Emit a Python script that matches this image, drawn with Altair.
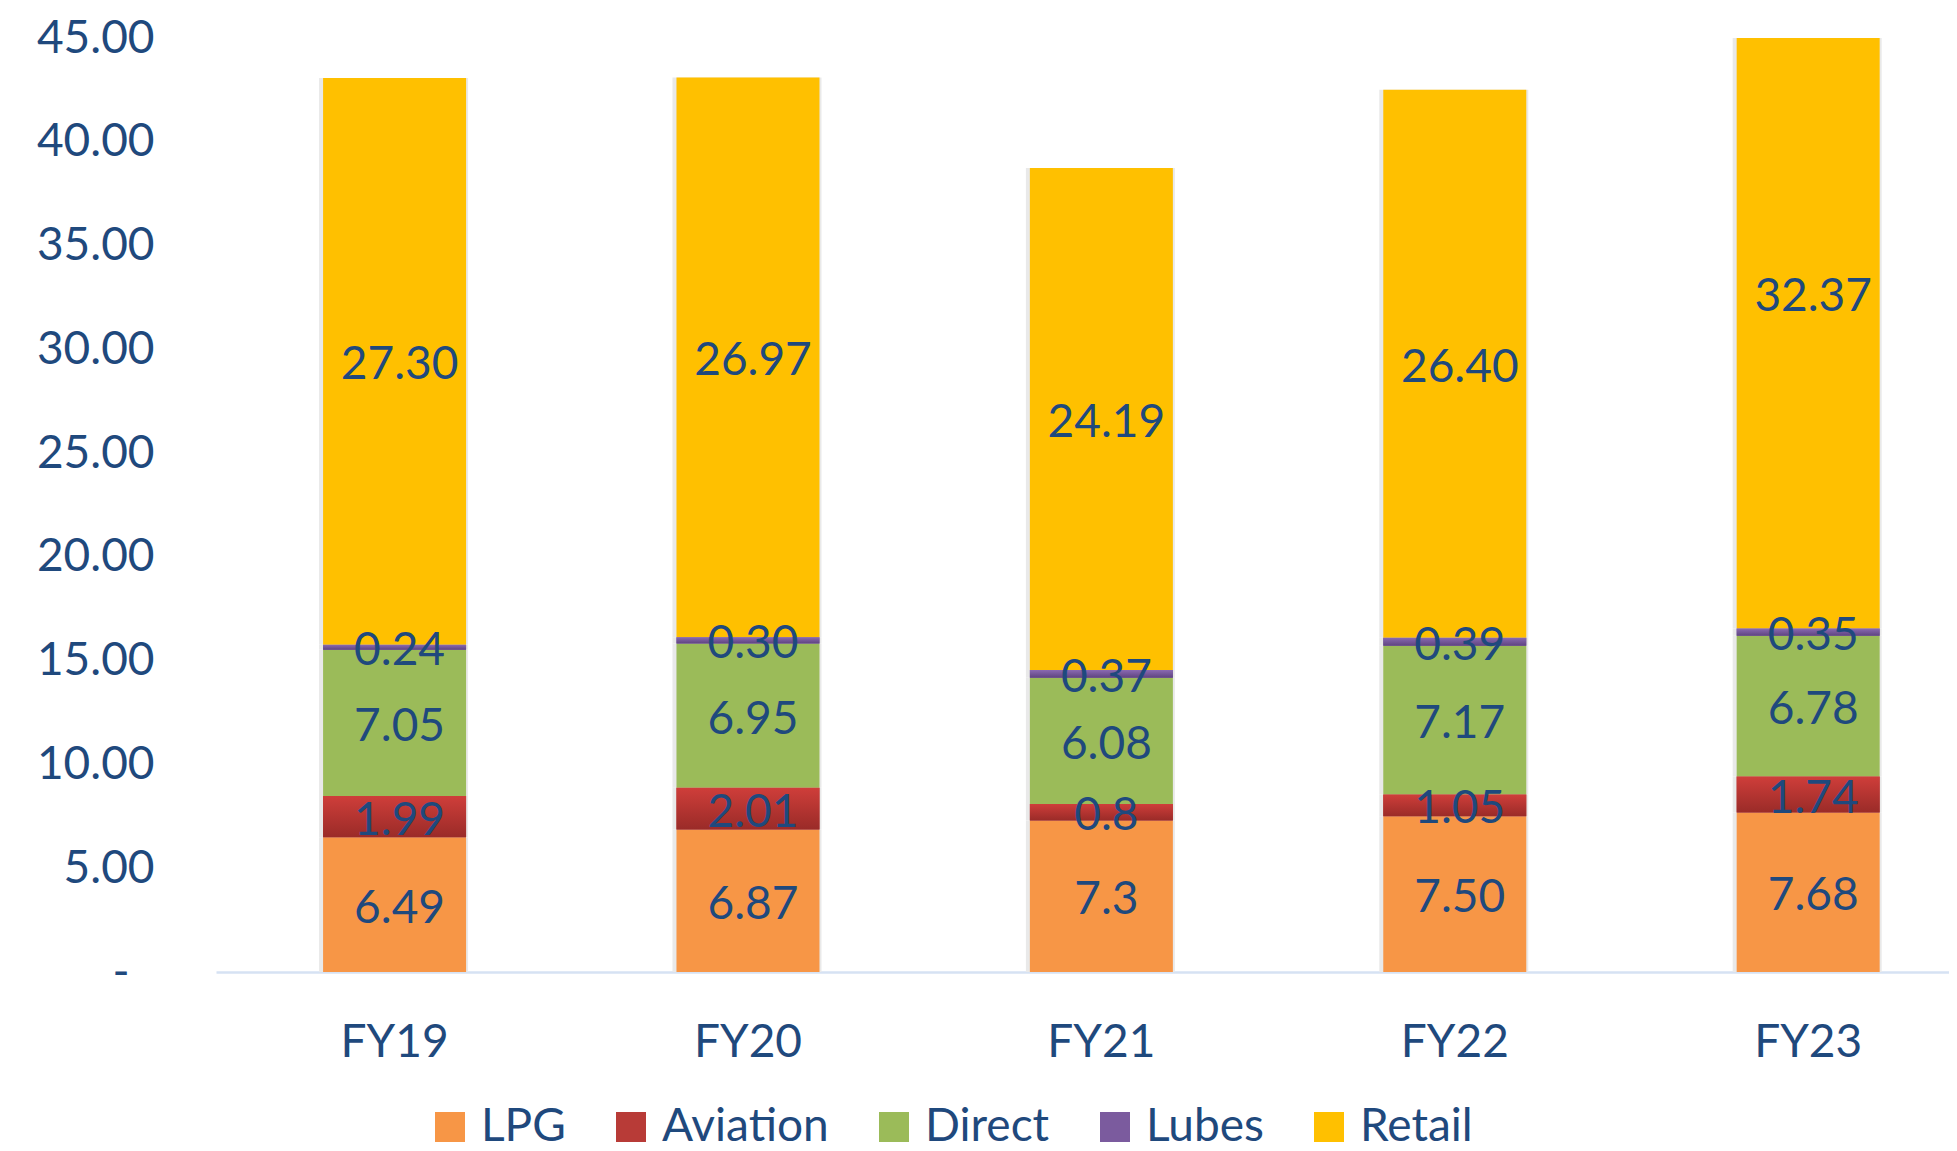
import altair as alt
import pandas as pd

years = ["FY19", "FY20", "FY21", "FY22", "FY23"]
series = ["LPG", "Aviation", "Direct", "Lubes", "Retail"]
lpg = [6.49, 6.87, 7.3, 7.50, 7.68]
aviation = [1.99, 2.01, 0.8, 1.05, 1.74]
direct = [7.05, 6.95, 6.08, 7.17, 6.78]
lubes = [0.24, 0.30, 0.37, 0.39, 0.35]
retail = [27.30, 26.97, 24.19, 26.40, 32.37]
lpg_lbl = ["6.49", "6.87", "7.3", "7.50", "7.68"]
aviation_lbl = ["1.99", "2.01", "0.8", "1.05", "1.74"]
direct_lbl = ["7.05", "6.95", "6.08", "7.17", "6.78"]
lubes_lbl = ["0.24", "0.30", "0.37", "0.39", "0.35"]
retail_lbl = ["27.30", "26.97", "24.19", "26.40", "32.37"]
y_ticks = [0, 5, 10, 15, 20, 25, 30, 35, 40, 45]

colors = ["#F79646", "#B83B37", "#9BBB59", "#7B5B9E", "#FFC000"]
TEXT = "#1F497D"
FONT = "Lato"

vals = [lpg, aviation, direct, lubes, retail]
lbls = [lpg_lbl, aviation_lbl, direct_lbl, lubes_lbl, retail_lbl]
rows = []
for si, s in enumerate(series):
    for yi, yr in enumerate(years):
        rows.append({"year": yr, "series": s, "order": si,
                     "value": vals[si][yi], "label": lbls[si][yi]})
df = pd.DataFrame(rows)

xscale = alt.Scale(domain=years, paddingInner=0.5954, paddingOuter=0.2496, align=0.607)
yscale = alt.Scale(domain=[0, 45], nice=False, zero=True)

base = alt.Chart(df).transform_stack(
    stack="value", groupby=["year"], as_=["v0", "v1"],
    sort=[alt.SortField("order", order="ascending")]
)

x_enc = alt.X("year:N", scale=xscale, sort=years,
              axis=alt.Axis(title=None, labelFontSize=46, labelFont=FONT, labelColor=TEXT,
                            ticks=False, tickSize=0, labelPadding=48, labelAngle=0,
                            domainColor="#D6E2F3", domainWidth=2.5, grid=False))
y_enc = alt.Y("v0:Q", scale=yscale,
              axis=alt.Axis(title=None, values=y_ticks, labelFontSize=46, labelFont=FONT,
                            labelColor=TEXT, ticks=False, tickSize=0, domain=False, grid=False,
                            labelPadding={"condition": {"test": "datum.value === 0", "value": 87},
                                          "value": 62},
                            labelExpr="datum.value == 0 ? '-' : format(datum.value, '.2f')"))

shadow = base.mark_bar(clip=True, color="#E9E9E9", size=149, xOffset=-1).encode(
    x=x_enc, y=y_enc, y2="v1:Q")

bars = base.mark_bar(clip=True, size=143).encode(
    x=x_enc, y=y_enc, y2="v1:Q",
    color=alt.Color("series:N", scale=alt.Scale(domain=series, range=colors), sort=series,
                    legend=alt.Legend(title=None, orient="none", direction="horizontal", columns=5,
                                      legendX=211, legendY=1066, padding=0,
                                      symbolType="square", symbolSize=900, symbolStrokeWidth=0,
                                      symbolOpacity=1,
                                      labelFontSize=46, labelFont=FONT, labelColor=TEXT,
                                      labelOffset=8, columnPadding=42, labelLimit=400))
)

av_grad = alt.Gradient(gradient="linear", x1=0, y1=0, x2=0, y2=1,
                       stops=[alt.GradientStop(color="#CF3E3A", offset=0),
                              alt.GradientStop(color="#9A2B28", offset=1)])
lu_grad = alt.Gradient(gradient="linear", x1=0, y1=0, x2=0, y2=1,
                       stops=[alt.GradientStop(color="#8A6AB2", offset=0),
                              alt.GradientStop(color="#5F4480", offset=1)])

av = base.transform_filter("datum.series == 'Aviation'").mark_bar(
    clip=True, size=143, color=av_grad).encode(x=x_enc, y=y_enc, y2="v1:Q")
lu = base.transform_filter("datum.series == 'Lubes'").mark_bar(
    clip=True, size=143, color=lu_grad).encode(x=x_enc, y=y_enc, y2="v1:Q")

labels = base.transform_calculate(mid="(datum.v0 + datum.v1) / 2").mark_text(
    font=FONT, fontSize=46, color=TEXT, align="center", baseline="middle", dx=5, dy=4
).encode(x=alt.X("year:N", scale=xscale, sort=years),
         y=alt.Y("mid:Q", scale=yscale), text="label:N")

chart = alt.layer(shadow, bars, av, lu, labels).properties(
    width=1733, height=934,
    padding={"left": 208, "top": 30, "right": 0, "bottom": 175},
    autosize=alt.AutoSizeParams(type="none"),
    background="white",
).configure_view(stroke=None)

chart.save("out.html", embed_options={"renderer": "svg", "actions": False})
